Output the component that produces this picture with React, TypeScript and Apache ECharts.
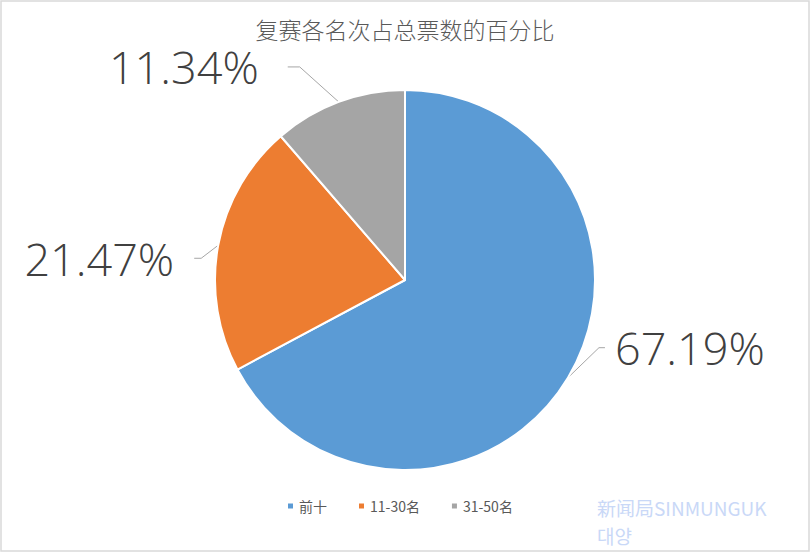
import React, { useEffect, useRef } from "react";
import * as echarts from "echarts";

const categories = ["前十", "11-30名", "31-50名"];
const shares = [67.19, 21.47, 11.34];
const colors = ["#5B9BD5", "#ED7D31", "#A5A5A5"];
const titleText = "复赛各名次占总票数的百分比";
const watermarkLines = ["新闻局SINMUNGUK", "대양"];

// per-label leader line bends (relative to the sector edge point) and text offsets
const bend = [
  { dx: 31, dy: -30, hx: 6, gap: 10, align: "left" },
  { dx: -17, dy: 13, hx: -7, gap: -20, align: "right" },
  { dx: -39, dy: -35, hx: -12, gap: -29, align: "right" },
];

export default function App() {
  const ref = useRef<HTMLDivElement>(null);
  useEffect(() => {
    const chart = echarts.init(ref.current!, null, { renderer: "svg" });
    chart.setOption({
      animation: false,
      backgroundColor: "#ffffff",
      title: {
        text: titleText,
        left: "center",
        top: 12,
        textStyle: {
          fontFamily: "'Noto Sans CJK SC', sans-serif",
          fontSize: 23,
          fontWeight: 300,
          color: "#595959",
        },
      },
      legend: {
        bottom: 36,
        left: 281,
        icon: "rect",
        itemWidth: 7,
        itemHeight: 7,
        itemGap: 30,
        textStyle: {
          fontFamily: "'Noto Sans CJK SC', sans-serif",
          fontSize: 14,
          color: "#595959",
        },
        data: categories,
      },
      graphic: [
        {
          type: "rect",
          shape: { x: 1, y: 1, width: 808, height: 550 },
          style: { fill: "none", stroke: "#d9d9d9", lineWidth: 1.5 },
          silent: true,
        },
        ...watermarkLines.map((t, i) => ({
          type: "text",
          left: 597,
          top: 497 + i * 28,
          style: {
            text: t,
            fill: "#c9d8f7",
            font: "19px 'Noto Sans CJK KR', sans-serif",
            lineHeight: 20,
          },
          silent: true,
        })),
      ],
      series: [
        {
          type: "pie",
          center: [405, 280],
          radius: 190,
          startAngle: 90,
          clockwise: true,
          itemStyle: { borderColor: "#ffffff", borderWidth: 2 },
          label: {
            show: true,
            formatter: (p: any) => p.value.toFixed(2) + "%",
            fontFamily: "'Open Sans', 'DejaVu Sans', sans-serif",
            fontSize: 45,
            fontWeight: 300,
            color: "#404040",
          },
          labelLine: {
            show: true,
            length: 20,
            length2: 10,
            lineStyle: { color: "#a6a6a6", width: 1 },
          },
          labelLayout: (params: any) => {
            const pts = params.labelLinePoints;
            const b = bend[params.dataIndex];
            if (!pts || !b) return {};
            const e = pts[0];
            const p1 = [e[0] + b.dx, e[1] + b.dy];
            const p2 = [p1[0] + b.hx, p1[1]];
            return {
              x: p2[0] + b.gap,
              y: p2[1],
              align: b.align,
              verticalAlign: "middle",
              labelLinePoints: [e, p1, p2],
            };
          },
          data: categories.map((c, i) => ({
            name: c,
            value: shares[i],
            itemStyle: { color: colors[i] },
          })),
        },
      ],
    });
    return () => chart.dispose();
  }, []);
  return (
    <div
      ref={ref}
      style={{ position: "fixed", left: 0, top: 0, width: 810, height: 554 }}
    />
  );
}
